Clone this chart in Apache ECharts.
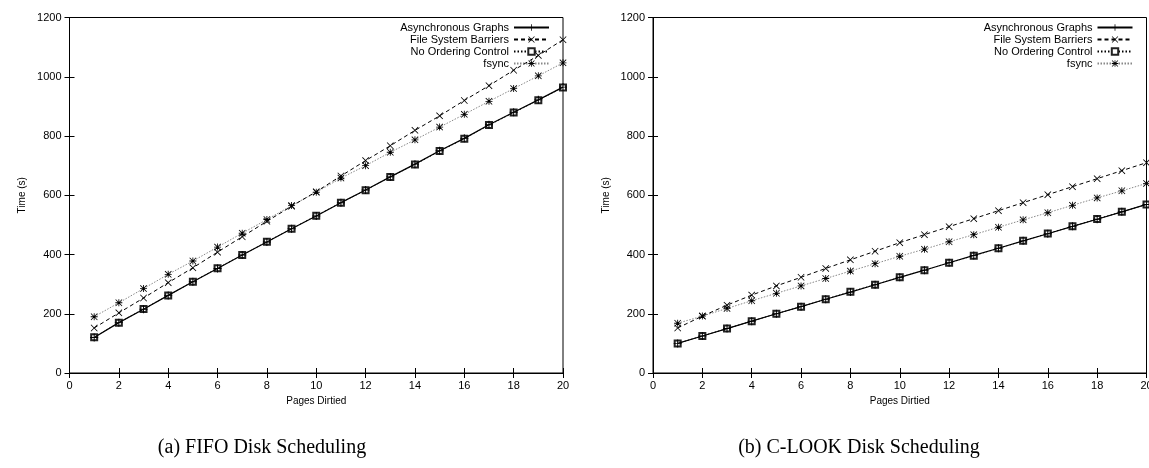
<!DOCTYPE html>
<html>
<head>
<meta charset="utf-8">
<script src="https://cdn.jsdelivr.net/npm/echarts@6/dist/echarts.min.js"></script>
<style>
html,body{margin:0;padding:0;background:#fff;}
#chart{width:1149px;height:468px;}
</style>
</head>
<body>
<div id="chart"></div>
<script>
const pages = [1,2,3,4,5,6,7,8,9,10,11,12,13,14,15,16,17,18,19,20];
const seriesNames = ['Asynchronous Graphs','File System Barriers','No Ordering Control','fsync'];
const xTicks = {min:0, max:20, interval:2};
const yTicks = {min:0, max:1200, interval:200};
const captions = ['(a) FIFO Disk Scheduling', '(b) C-LOOK Disk Scheduling'];

// (a) FIFO
const fifoAsync    = [120,170,215,262,308,353,398,442,487,530,575,618,662,705,750,792,838,880,922,965];
const fifoBarriers = [152,203,253,305,355,408,460,512,563,612,665,717,767,819,868,920,970,1022,1072,1125];
const fifoNoOrder  = [121,170,216,262,308,354,398,443,487,531,575,617,662,704,749,791,837,879,921,964];
const fifoFsync    = [190,237,285,333,378,425,472,518,565,610,658,700,745,787,830,873,917,960,1003,1047];

// (b) C-LOOK
const clookAsync    = [100,125,150,175,200,224,249,273,298,323,347,372,397,421,446,470,495,519,544,569];
const clookBarriers = [152,192,229,263,294,323,353,382,411,440,467,494,521,548,575,602,629,656,683,710];
const clookNoOrder  = [100,125,150,175,200,224,249,274,298,323,347,372,396,421,446,471,495,520,544,569];
const clookFsync    = [168,192,218,244,269,294,319,344,369,394,418,443,467,492,517,541,566,591,615,640];

const PLUS = 'M4.4,0H5.6V4.4H10V5.6H5.6V10H4.4V5.6H0V4.4H4.4Z';
const CROSS = 'M0.8,0L5,4.2L9.2,0L10,0.8L5.8,5L10,9.2L9.2,10L5,5.8L0.8,10L0,9.2L4.2,5L0,0.8Z';
const styles = [
  {symbol:'path://'+PLUS, size:8, line:{color:'#000', width:1.2, type:'solid'}, item:{color:'#000'}},
  {symbol:'path://'+CROSS, size:7, line:{color:'#000', width:1, type:[4,3]}, item:{color:'#000'}},
  {symbol:'emptyRect', size:6, line:{color:'#000', width:1, type:[1.5,2]}, item:{color:'#222', borderWidth:0.9}},
  {symbol:'path://'+PLUS+' '+CROSS, size:7, line:{color:'#888', width:1, type:[1.5,1.5]}, item:{color:'#000'}}
];

const panels = [
  {left:69.5, capX:262, data:[fifoAsync, fifoBarriers, fifoNoOrder, fifoFsync]},
  {left:653, capX:859, data:[clookAsync, clookBarriers, clookNoOrder, clookFsync]}
];
const gridW = 493.5, gridTop = 17.5, gridH = 355.5;
const font = 'Liberation Sans, Arial, Helvetica, sans-serif';

const grids = [], xAxes = [], yAxes = [], series = [], legends = [], graphics = [];
panels.forEach((p, i) => {
  grids.push({left:p.left, top:gridTop, width:gridW, height:gridH, show:true, borderColor:'#000', borderWidth:1,
    backgroundColor:'transparent', containLabel:false, outerBoundsMode:'none'});
  const gx = i;
  xAxes.push({type:'value', gridIndex:gx, position:'bottom', min:xTicks.min, max:xTicks.max, interval:xTicks.interval,
    name:'Pages Dirtied', nameLocation:'middle', nameGap:20,
    nameTextStyle:{fontFamily:font, fontSize:10, color:'#000'},
    axisLine:{show:true, lineStyle:{color:'#000', width:1}},
    axisTick:{show:true, inside:true, length:5, lineStyle:{color:'#000'}},
    axisLabel:{fontFamily:font, fontSize:11, color:'#000', margin:7, formatter: v => String(v)},
    splitLine:{show:false}});
  xAxes.push({type:'value', gridIndex:gx, position:'top', min:xTicks.min, max:xTicks.max, interval:xTicks.interval,
    axisLine:{show:true, lineStyle:{color:'#000', width:1}},
    axisTick:{show:true, inside:true, length:5, lineStyle:{color:'#000'}},
    axisLabel:{show:false}, splitLine:{show:false}});
  yAxes.push({type:'value', gridIndex:gx, position:'left', min:yTicks.min, max:yTicks.max, interval:yTicks.interval,
    name:'Time (s)', nameLocation:'middle', nameGap:42, nameRotate:90,
    nameTextStyle:{fontFamily:font, fontSize:10, color:'#000'},
    axisLine:{show:true, lineStyle:{color:'#000', width:1}},
    axisTick:{show:true, inside:true, length:5, lineStyle:{color:'#000'}},
    axisLabel:{fontFamily:font, fontSize:11, color:'#000', margin:8, formatter: v => String(v)},
    splitLine:{show:false}});
  yAxes.push({type:'value', gridIndex:gx, position:'right', min:yTicks.min, max:yTicks.max, interval:yTicks.interval,
    axisLine:{show:true, lineStyle:{color:'#000', width:1}},
    axisTick:{show:true, inside:true, length:5, lineStyle:{color:'#000'}},
    axisLabel:{show:false}, splitLine:{show:false}});
  p.data.forEach((vals, k) => {
    const s = styles[k];
    series.push({
      name: seriesNames[k], type:'line', xAxisIndex:2*i, yAxisIndex:2*i,
      data: pages.map((x, j) => [x, vals[j]]),
      symbol:s.symbol, symbolSize:s.size, showSymbol:true,
      lineStyle:Object.assign({}, s.line), itemStyle:Object.assign({}, s.item),
      animation:false, z: 10 - k, emphasis:{disabled:true}
    });
  });
  legends.push({
    orient:'vertical', align:'right', right: 1149 - (p.left + gridW) + 13, top: 21.5,
    itemWidth:35, itemHeight:8, itemGap:0, padding:0, selectedMode:false,
    textStyle:{fontFamily:font, fontSize:11, color:'#000', lineHeight:12},
    data: seriesNames.slice()
  });
  graphics.push({type:'text', x: p.capX, y: 448,
    style:{text:captions[i], font:'20px "Liberation Serif", "Times New Roman", serif', fill:'#000', align:'center', verticalAlign:'middle'}});
});

const chart = echarts.init(document.getElementById('chart'), null, {renderer:'canvas'});
chart.setOption({
  backgroundColor:'#fff',
  animation:false,
  grid: grids, xAxis: xAxes, yAxis: yAxes, series: series, legend: legends,
  graphic: graphics
});
</script>
</body>
</html>
